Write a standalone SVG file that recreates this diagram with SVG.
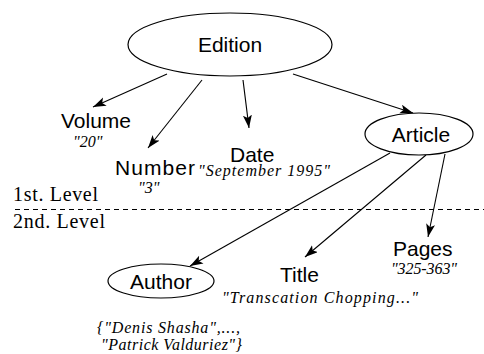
<svg xmlns="http://www.w3.org/2000/svg" width="484" height="354" viewBox="0 0 484 354">
<style>
.n{fill:#fff;stroke:#000;stroke-width:1.2}
.e{stroke:#000;stroke-width:1.1;fill:none;marker-end:url(#ah)}
</style>
<defs>
<marker id="ah" markerUnits="userSpaceOnUse" markerWidth="14" markerHeight="10" refX="13" refY="4.5" orient="auto">
<path d="M0,0 L13,4.5 L0,9 L3,4.5 Z" fill="#000"/>
</marker>
</defs>
<rect width="484" height="354" fill="#fff"/>
<g id="connectors">
<line class="e" x1="167" y1="74" x2="93" y2="107"/>
<line class="e" x1="202" y1="80" x2="148" y2="148"/>
<line class="e" x1="243" y1="80" x2="249" y2="128"/>
<line class="e" x1="293" y1="74" x2="413" y2="113"/>
<line class="e" x1="390" y1="153" x2="190" y2="266"/>
<line class="e" x1="426" y1="155" x2="305" y2="257"/>
<line class="e" x1="445" y1="154" x2="428" y2="237"/>
<line x1="15" y1="209.5" x2="484" y2="209.5" stroke="#000" stroke-width="1" stroke-dasharray="5,4"/>
</g>
<g id="edition">
<ellipse class="n" cx="230" cy="44.5" rx="102" ry="31.5"/>
<text font-family="Liberation Sans" font-size="21" x="230" y="52" text-anchor="middle">Edition</text>
</g>
<g id="volume">
<text font-family="Liberation Sans" font-size="21" x="61" y="128">Volume</text>
<text font-family="Liberation Serif" font-style="italic" font-size="16" x="73" y="147">"20"</text>
</g>
<g id="number">
<text font-family="Liberation Sans" font-size="21" x="115" y="175" textLength="80">Number</text>
<text font-family="Liberation Serif" font-style="italic" font-size="16" x="138" y="193">"3"</text>
</g>
<g id="date">
<text font-family="Liberation Sans" font-size="21" x="230" y="162">Date</text>
<text font-family="Liberation Serif" font-style="italic" font-size="16" x="198" y="176" textLength="132">"September 1995"</text>
</g>
<g id="article">
<ellipse class="n" cx="419" cy="134" rx="54" ry="21"/>
<text font-family="Liberation Sans" font-size="21" x="421" y="142" text-anchor="middle">Article</text>
</g>
<g id="levels">
<text font-family="Liberation Serif" font-size="20" x="13" y="201" textLength="85">1st. Level</text>
<text font-family="Liberation Serif" font-size="20" x="13" y="228" textLength="92">2nd. Level</text>
</g>
<g id="author">
<ellipse class="n" cx="161" cy="281" rx="53" ry="17"/>
<text font-family="Liberation Sans" font-size="21" x="161" y="289" text-anchor="middle">Author</text>
<text font-family="Liberation Serif" font-style="italic" font-size="16" x="97" y="333" textLength="143">{"Denis Shasha",...,</text>
<text font-family="Liberation Serif" font-style="italic" font-size="16" x="101" y="350" textLength="141">"Patrick Valduriez"}</text>
</g>
<g id="title">
<text font-family="Liberation Sans" font-size="21" x="280" y="282">Title</text>
<text font-family="Liberation Serif" font-style="italic" font-size="16" x="222" y="303" textLength="196">"Transcation Chopping..."</text>
</g>
<g id="pages">
<text font-family="Liberation Sans" font-size="21" x="393" y="256">Pages</text>
<text font-family="Liberation Serif" font-style="italic" font-size="16" x="391" y="274" textLength="66">"325-363"</text>
</g>
</svg>
